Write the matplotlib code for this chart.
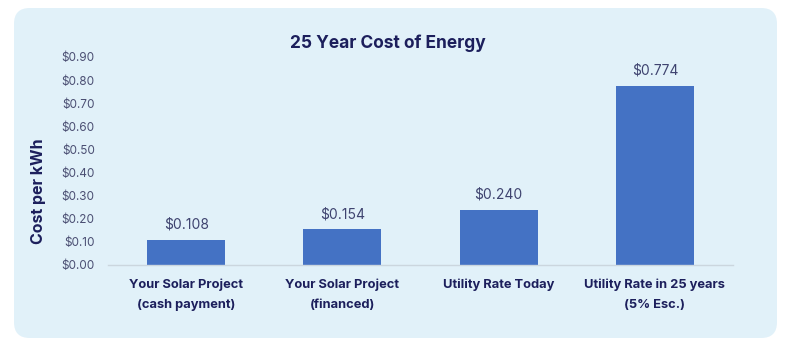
import matplotlib
matplotlib.use("Agg")
import matplotlib.pyplot as plt
from matplotlib.patches import FancyBboxPatch

categories = ["Your Solar Project\n(cash payment)", "Your Solar Project\n(financed)",
              "Utility Rate Today", "Utility Rate in 25 years\n(5% Esc.)"]
values = [0.108, 0.154, 0.240, 0.774]
value_labels = ["$0.108", "$0.154", "$0.240", "$0.774"]
yticks = [0.0, 0.1, 0.2, 0.3, 0.4, 0.5, 0.6, 0.7, 0.8, 0.9]
ytick_labels = ["$0.00", "$0.10", "$0.20", "$0.30", "$0.40", "$0.50", "$0.60", "$0.70", "$0.80", "$0.90"]

W, H = 789, 348
fig = plt.figure(figsize=(W / 100, H / 100), dpi=100)
fig.patch.set_facecolor("white")

panel = FancyBboxPatch((14 / W, 10 / H), (777 - 14) / W, (340 - 10) / H,
                       boxstyle="round,pad=0,rounding_size=0.02",
                       transform=fig.transFigure, facecolor="#E1F1F9",
                       edgecolor="none", zorder=-5, mutation_aspect=W / H)
fig.patches.append(panel)

ax = fig.add_axes([108 / W, (H - 265) / H, (733 - 108) / W, (265 - 57) / H])
ax.set_facecolor("none")
ax.set_zorder(2)

navy = "#1C1F5C"
gray = "#4B4F73"
font = "Inter"

x = list(range(len(categories)))
bars = ax.bar(x, values, width=0.5, color="#4472C4", zorder=2)
for xi, v, lab in zip(x, values, value_labels):
    ax.annotate(lab, (xi, v), xytext=(0, 6), textcoords="offset points",
                ha="center", va="bottom", fontsize=10, color="#3F4470", family=font)

ax.set_xlim(-0.5, 3.5)
ax.set_ylim(0, 0.9)
ax.set_yticks(yticks)
ax.set_yticklabels(ytick_labels, fontsize=8.5, color=gray, family=font)
ax.set_xticks(x)
ax.set_xticklabels(categories, fontsize=9.3, fontweight="bold", color=navy,
                   family=font, linespacing=1.8)
ax.tick_params(axis="both", length=0)
ax.tick_params(axis="x", pad=10)
ax.tick_params(axis="y", pad=9.5)
for s in ["top", "right", "left"]:
    ax.spines[s].set_visible(False)
ax.spines["bottom"].set_color("#CBD6DE")
ax.spines["bottom"].set_linewidth(1)

fig.text(38 / W, 1 - 191 / H, "Cost per kWh", rotation=90, ha="center", va="center",
         fontsize=11.5, fontweight="bold", color=navy, family=font, zorder=3)
fig.text(388 / W, 1 - 43 / H, "25 Year Cost of Energy", ha="center", va="center",
         fontsize=12.5, fontweight="bold", color=navy, family=font, zorder=3)

fig.savefig("out.png", dpi=100)
